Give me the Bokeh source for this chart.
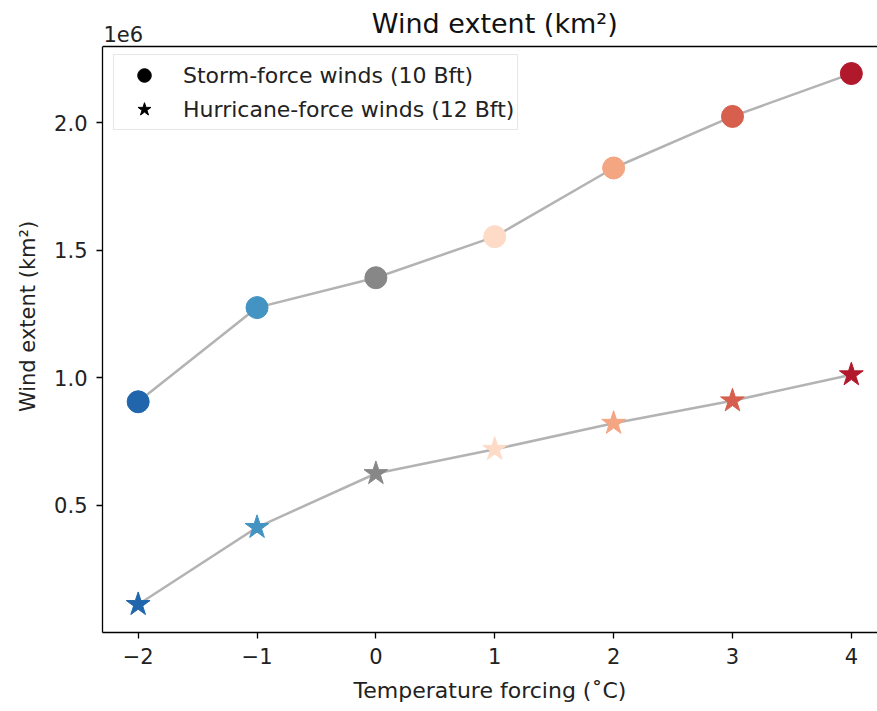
from bokeh.plotting import figure
from bokeh.models import (ColumnDataSource, Range1d, FixedTicker, CustomJSTickFormatter,
                          Legend, LegendItem, Label, Span)
from bokeh.embed import file_html
from bokeh.resources import INLINE

# ---- data ----
forcing = [-2, -1, 0, 1, 2, 3, 4]
storm_extent = [0.906e6, 1.275e6, 1.392e6, 1.553e6, 1.822e6, 2.024e6, 2.192e6]
hurricane_extent = [0.112e6, 0.414e6, 0.625e6, 0.720e6, 0.822e6, 0.910e6, 1.012e6]
point_colors = ["#2166ac", "#4393c3", "#878787", "#fddbc7", "#f4a582", "#d6604d", "#b2182b"]
x_ticks = [-2, -1, 0, 1, 2, 3, 4]
y_ticks = [0.5, 1.0, 1.5, 2.0]
scale = 1e6

FONT = "DejaVu Sans"
W, H = 877, 711
LEFT, BOTTOM, AX_TOP = 102, 79, 46          # pixel layout of the axes box
X0, X1_NOMINAL, X1 = -2.3, 4.3, 4.22
Y0, Y1 = 0.002, 2.298
frame_h = H - BOTTOM                          # frame reaches the top of the canvas
Y_TOP = Y1 + AX_TOP * (Y1 - Y0) / (frame_h - AX_TOP)

GLYPH_H, SPACING, PAD = 34, 0, 3
legend_h = 2 * GLYPH_H + SPACING + 2 * PAD
LEGEND_TOP = 56

src_storm = ColumnDataSource(dict(x=forcing, y=[v / scale for v in storm_extent], c=point_colors))
src_hurr = ColumnDataSource(dict(x=forcing, y=[v / scale for v in hurricane_extent], c=point_colors))

p = figure(width=W, height=H, output_backend="svg", toolbar_location=None,
           x_range=Range1d(X0, X1), y_range=Range1d(Y0, Y_TOP),
           min_border_left=LEFT, min_border_top=0, min_border_bottom=BOTTOM, min_border_right=0)

p.outline_line_color = None
p.xgrid.visible = False
p.ygrid.visible = False
p.background_fill_color = "white"
p.border_fill_color = "white"

# top spine
p.add_layout(Span(location=Y1, dimension="width", line_color="black", line_width=1.3))

# lines
p.line("x", "y", source=src_storm, line_color="#b3b3b3", line_width=2.5)
p.line("x", "y", source=src_hurr, line_color="#b3b3b3", line_width=2.5)

# markers
p.scatter("x", "y", source=src_storm, marker="circle", size=22, fill_color="c", line_color="c")
p.scatter("x", "y", source=src_hurr, marker="star", size=25, fill_color="c", line_color="c")

# legend proxies (not visible in the plot area)
nan = float("nan")
leg_src = ColumnDataSource(dict(x=[nan], y=[nan]))
r_c = p.scatter("x", "y", source=leg_src, marker="circle", size=22, fill_color="black", line_color="black")
r_s = p.scatter("x", "y", source=leg_src, marker="star", size=22, fill_color="black", line_color="black")
legend = Legend(items=[LegendItem(label="Storm-force winds (10 Bft)", renderers=[r_c], index=0),
                       LegendItem(label="Hurricane-force winds (12 Bft)", renderers=[r_s], index=0)],
                location=(11, frame_h - LEGEND_TOP - legend_h), padding=PAD, spacing=SPACING,
                glyph_height=GLYPH_H, glyph_width=54, label_standoff=12,
                label_text_font=FONT, label_text_font_size="22px", label_text_color="#222222",
                border_line_color="#d0d0d0", border_line_width=1.3,
                background_fill_color="white", background_fill_alpha=0.85)
p.add_layout(legend, "center")

# axes
for ax in (p.xaxis[0], p.yaxis[0]):
    ax.major_tick_in = 0
    ax.major_tick_out = 6
    ax.minor_tick_in = 0
    ax.minor_tick_out = 0
    ax.axis_line_width = 1.3
    ax.major_tick_line_width = 1.3
    ax.major_label_text_font = FONT
    ax.major_label_text_font_size = "21px"
    ax.major_label_text_color = "#222222"
    ax.axis_label_text_font = FONT
    ax.axis_label_text_font_style = "normal"
    ax.axis_label_text_color = "#222222"

p.xaxis.ticker = FixedTicker(ticks=x_ticks)
p.xaxis.formatter = CustomJSTickFormatter(code="return tick < 0 ? '\u2212' + Math.abs(tick) : tick.toString();")
p.xaxis.major_label_standoff = 9
p.xaxis.axis_label = "Temperature forcing (\u02daC)"
p.xaxis.axis_label_text_font_size = "22px"
p.xaxis.axis_label_standoff = 11

p.yaxis.ticker = FixedTicker(ticks=y_ticks)
p.yaxis.formatter = CustomJSTickFormatter(code="return tick.toFixed(1);")
p.yaxis.major_label_standoff = 9
p.yaxis.axis_label = "Wind extent (km\u00b2)"
p.yaxis.axis_label_text_font_size = "21px"
p.yaxis.axis_label_standoff = 11
p.yaxis.bounds = (Y0, Y1)

# title (centred over the nominal axes box)
p.add_layout(Label(x=(X0 + X1_NOMINAL) / 2, y=Y1, text="Wind extent (km\u00b2)",
                   text_align="center", text_baseline="bottom", y_offset=8,
                   text_font=FONT, text_font_size="27px", text_color="#111111"))

# offset text
p.add_layout(Label(x=X0, y=Y1, text="1e6",
                   text_font=FONT, text_font_size="21px", text_color="#222222",
                   y_offset=5, x_offset=1, text_baseline="bottom"))

open("out.html", "w").write(file_html(p, INLINE))
